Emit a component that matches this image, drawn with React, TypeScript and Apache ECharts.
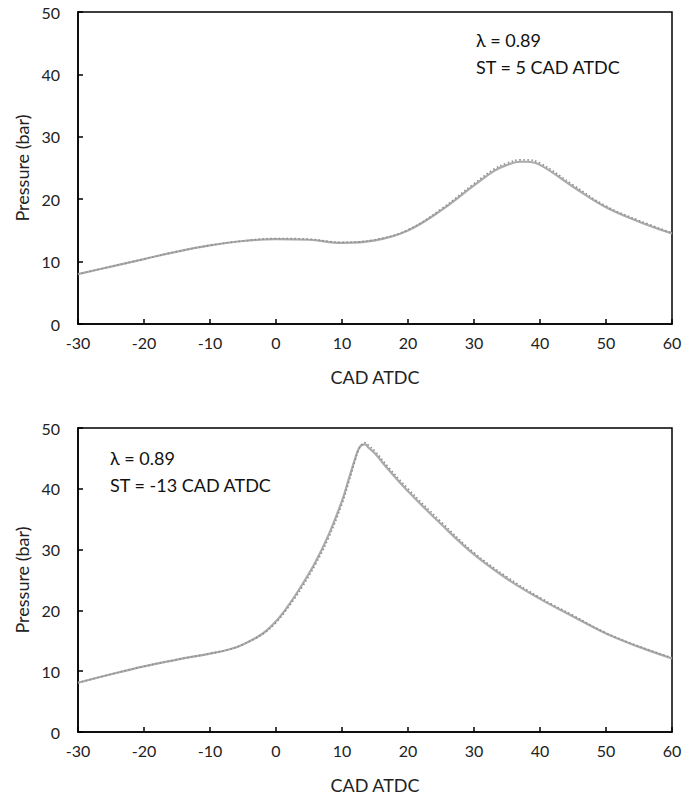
import React, { useEffect, useRef } from "react";
import * as echarts from "echarts";

// Top panel: ST = 5 CAD ATDC
const topCad = [-30, -25, -20, -15, -10, -5, 0, 5, 10, 15, 20, 25, 30, 33, 35, 37, 38, 40, 45, 50, 55, 60];
const topSolid = [8.0, 9.2, 10.4, 11.6, 12.6, 13.3, 13.6, 13.5, 13.0, 13.4, 15.0, 18.2, 22.2, 24.5, 25.5, 26.0, 26.0, 25.5, 22.0, 18.7, 16.4, 14.5];
const topDotted = [8.0, 9.2, 10.4, 11.6, 12.6, 13.3, 13.7, 13.6, 13.1, 13.5, 15.1, 18.4, 22.5, 24.8, 25.8, 26.3, 26.3, 25.8, 22.3, 18.9, 16.6, 14.6];

// Bottom panel: ST = -13 CAD ATDC
const botCad = [-30, -25, -20, -15, -10, -7, -5, -2, 0, 2, 4, 6, 8, 10, 11, 12, 12.5, 13, 13.5, 14, 15, 17, 20, 25, 30, 35, 40, 45, 50, 55, 60];
const botSolid = [8.1, 9.5, 10.8, 11.9, 12.9, 13.6, 14.4, 16.2, 18.2, 21.0, 24.3, 28.0, 32.5, 38.0, 41.5, 45.0, 46.5, 47.2, 47.3, 46.8, 45.8, 43.2, 39.6, 34.2, 29.2, 25.2, 21.9, 19.0, 16.2, 14.0, 12.1];
const botDotted = [8.1, 9.5, 10.8, 11.9, 12.9, 13.6, 14.4, 16.1, 18.0, 20.7, 23.9, 27.6, 32.0, 37.5, 41.0, 44.7, 46.4, 47.3, 47.6, 47.2, 46.2, 43.6, 40.0, 34.6, 29.5, 25.5, 22.1, 19.2, 16.3, 14.1, 12.2];

const xTicks = { min: -30, max: 60, interval: 10 };
const yTicks = { min: 0, max: 50, interval: 10 };

const labelTop = ["λ = 0.89", "ST = 5 CAD ATDC"];
const labelBot = ["λ = 0.89", "ST = -13 CAD ATDC"];

const FONT = "Lato, 'Open Sans', sans-serif";

function zip(xs: number[], ys: number[]) {
  return xs.map((x, i) => [x, ys[i]]);
}

export default function App() {
  const ref = useRef<HTMLDivElement>(null);
  useEffect(() => {
    document.body.style.margin = "0";
    if (!ref.current) return;
    const chart = echarts.init(ref.current, undefined, { renderer: "svg" });
    const xAxisBase = (gridIndex: number) => ({
      type: "value" as const,
      gridIndex,
      ...xTicks,
      name: "CAD ATDC",
      nameLocation: "middle" as const,
      nameGap: 44,
      nameTextStyle: { color: "#222", fontSize: 18, fontFamily: FONT },
      axisLine: { show: true, onZero: false, lineStyle: { color: "#000", width: 1.5 } },
      axisTick: { show: true, inside: true, length: 5, lineStyle: { color: "#000", width: 1.5 } },
      axisLabel: { color: "#222", fontSize: 16, fontFamily: FONT, margin: 10 },
      splitLine: { show: false },
    });
    const yAxisBase = (gridIndex: number) => ({
      type: "value" as const,
      gridIndex,
      ...yTicks,
      name: "Pressure (bar)",
      nameLocation: "middle" as const,
      nameGap: 44,
      nameTextStyle: { color: "#222", fontSize: 18, fontFamily: FONT },
      axisLine: { show: true, onZero: false, lineStyle: { color: "#000", width: 1.5 } },
      axisTick: { show: true, inside: true, length: 5, lineStyle: { color: "#000", width: 1.5 } },
      axisLabel: { color: "#222", fontSize: 16, fontFamily: FONT, margin: 18 },
      splitLine: { show: false },
    });
    const solid = (xi: number, data: number[][]) => ({
      type: "line" as const,
      xAxisIndex: xi,
      yAxisIndex: xi,
      data,
      smooth: 0.4,
      showSymbol: false,
      lineStyle: { color: "#ababab", width: 2.2 },
      z: 2,
    });
    const dotted = (xi: number, data: number[][]) => ({
      type: "line" as const,
      xAxisIndex: xi,
      yAxisIndex: xi,
      data,
      smooth: 0.4,
      showSymbol: false,
      lineStyle: { color: "#8f8f8f", width: 1.6, type: [1.5, 2.5] },
      z: 3,
    });
    const textStyle = { fill: "#111", fontSize: 18, fontFamily: FONT };
    chart.setOption({
      animation: false,
      backgroundColor: "#fff",
      grid: [
        { left: 78, top: 12, width: 594, height: 312, show: true, borderColor: "#000", borderWidth: 1.5, backgroundColor: "transparent" },
        { left: 78, top: 428, width: 594, height: 304, show: true, borderColor: "#000", borderWidth: 1.5, backgroundColor: "transparent" },
      ],
      xAxis: [xAxisBase(0), xAxisBase(1)],
      yAxis: [yAxisBase(0), yAxisBase(1)],
      series: [
        solid(0, zip(topCad, topSolid)),
        dotted(0, zip(topCad, topDotted)),
        solid(1, zip(botCad, botSolid)),
        dotted(1, zip(botCad, botDotted)),
      ],
      graphic: [
        { type: "text", left: 476, top: 31, style: { ...textStyle, text: labelTop[0] } },
        { type: "text", left: 476, top: 58, style: { ...textStyle, text: labelTop[1] } },
        { type: "text", left: 110, top: 449, style: { ...textStyle, text: labelBot[0] } },
        { type: "text", left: 110, top: 476, style: { ...textStyle, text: labelBot[1] } },
      ],
    });
    return () => chart.dispose();
  }, []);
  return <div ref={ref} style={{ width: 698, height: 796 }} />;
}
